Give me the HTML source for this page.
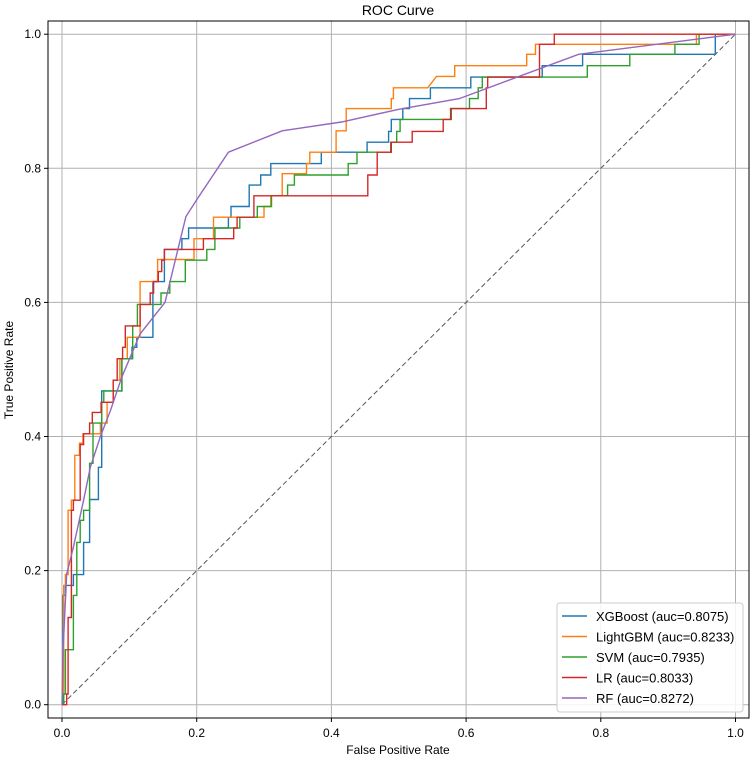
<!DOCTYPE html>
<html><head><meta charset="utf-8"><style>
body{margin:0;background:#fff;}
svg{display:block;font-family:"Liberation Sans","DejaVu Sans",sans-serif;}
</style></head><body>
<svg id="chart" width="753" height="759" viewBox="0 0 753 759">
<text x="398" y="15" text-anchor="middle" font-size="14">ROC Curve</text>
<g id="grid"></g>
<g id="series"></g>
<rect x="48" y="21" width="701" height="697" fill="none" stroke="#000" stroke-width="1"/>
<g id="ticks"></g>
<text x="398" y="754" text-anchor="middle" font-size="12">False Positive Rate</text>
<text transform="translate(13,370) rotate(-90)" text-anchor="middle" font-size="12">True Positive Rate</text>
<g id="legend">
<rect x="557" y="603" width="186" height="109" rx="3" fill="#fff" fill-opacity="0.85" stroke="#ccc"/>
</g>
</svg>
<script>
const ticks=[0,0.2,0.4,0.6,0.8,1.0];
const tickLabels=["0.0","0.2","0.4","0.6","0.8","1.0"];
const names=["XGBoost (auc=0.8075)","LightGBM (auc=0.8233)","SVM (auc=0.7935)","LR (auc=0.8033)","RF (auc=0.8272)"];
const colors=["#1f77b4","#ff7f0e","#2ca02c","#d62728","#9467bd"];
const xgbFpr=[0,0.0015,0.0015,0.005,0.005,0.017,0.017,0.032,0.032,0.041,0.041,0.054,0.054,0.059,0.059,0.089,0.089,0.104,0.104,0.111,0.111,0.135,0.135,0.135,0.135,0.152,0.152,0.178,0.178,0.188,0.188,0.247,0.247,0.251,0.251,0.278,0.278,0.295,0.295,0.31,0.31,0.385,0.385,0.453,0.453,0.485,0.485,0.489,0.489,0.506,0.506,0.516,0.516,0.547,0.547,0.607,0.607,0.713,0.713,0.773,0.773,0.97,0.97,1];
const xgbTpr=[0,0,0.163,0.163,0.178,0.178,0.194,0.194,0.242,0.242,0.306,0.306,0.354,0.354,0.468,0.468,0.516,0.516,0.533,0.533,0.548,0.548,0.603,0.603,0.631,0.631,0.679,0.679,0.695,0.695,0.711,0.711,0.727,0.727,0.743,0.743,0.775,0.775,0.79,0.79,0.807,0.807,0.824,0.824,0.839,0.839,0.855,0.855,0.873,0.873,0.889,0.889,0.904,0.904,0.92,0.92,0.936,0.936,0.953,0.953,0.97,0.97,1,1];
const lgbFpr=[0,0.0025,0.0025,0.005,0.005,0.009,0.009,0.014,0.014,0.019,0.019,0.026,0.026,0.031,0.031,0.057,0.057,0.067,0.067,0.076,0.076,0.086,0.086,0.097,0.097,0.116,0.116,0.142,0.142,0.196,0.196,0.225,0.225,0.3,0.3,0.31,0.31,0.327,0.327,0.363,0.363,0.368,0.368,0.407,0.407,0.422,0.422,0.489,0.489,0.492,0.492,0.543,0.556,0.583,0.583,0.69,0.69,0.703,0.703,0.942,0.942,1];
const lgbTpr=[0,0,0.178,0.178,0.194,0.194,0.29,0.29,0.305,0.305,0.372,0.372,0.39,0.39,0.404,0.404,0.42,0.42,0.451,0.451,0.484,0.484,0.516,0.516,0.548,0.548,0.631,0.631,0.664,0.664,0.695,0.695,0.727,0.727,0.743,0.743,0.759,0.759,0.792,0.792,0.807,0.807,0.824,0.824,0.856,0.856,0.889,0.889,0.904,0.904,0.92,0.92,0.937,0.937,0.953,0.953,0.97,0.97,0.985,0.985,1,1];
const svmFpr=[0,0.0025,0.0025,0.005,0.005,0.017,0.017,0.022,0.022,0.027,0.027,0.032,0.032,0.041,0.041,0.046,0.046,0.059,0.059,0.062,0.062,0.089,0.089,0.105,0.105,0.112,0.112,0.147,0.147,0.16,0.16,0.183,0.183,0.215,0.215,0.227,0.227,0.264,0.264,0.29,0.29,0.311,0.311,0.335,0.335,0.345,0.345,0.425,0.425,0.438,0.438,0.488,0.488,0.497,0.497,0.502,0.502,0.578,0.578,0.605,0.605,0.618,0.618,0.624,0.624,0.78,0.78,0.843,0.843,0.91,0.91,0.946,0.946,1];
const svmTpr=[0,0,0.016,0.016,0.082,0.082,0.163,0.163,0.242,0.242,0.275,0.275,0.29,0.29,0.36,0.36,0.42,0.42,0.451,0.451,0.468,0.468,0.516,0.516,0.565,0.565,0.597,0.597,0.614,0.614,0.631,0.631,0.663,0.663,0.679,0.679,0.711,0.711,0.727,0.727,0.743,0.743,0.759,0.759,0.775,0.775,0.79,0.79,0.807,0.807,0.824,0.824,0.839,0.839,0.855,0.855,0.873,0.873,0.889,0.889,0.904,0.904,0.92,0.92,0.936,0.936,0.953,0.953,0.97,0.97,0.985,0.985,1,1];
const lrFpr=[0,0.007,0.007,0.009,0.009,0.014,0.014,0.017,0.017,0.027,0.027,0.032,0.032,0.041,0.041,0.045,0.045,0.058,0.058,0.076,0.076,0.082,0.082,0.09,0.09,0.094,0.094,0.116,0.116,0.131,0.131,0.136,0.136,0.143,0.143,0.148,0.148,0.152,0.152,0.21,0.21,0.255,0.255,0.26,0.26,0.285,0.285,0.454,0.454,0.468,0.468,0.489,0.489,0.52,0.52,0.566,0.566,0.577,0.577,0.63,0.63,0.632,0.632,0.709,0.709,0.731,0.731,1];
const lrTpr=[0,0,0.016,0.016,0.13,0.13,0.29,0.29,0.305,0.305,0.388,0.388,0.404,0.404,0.42,0.42,0.436,0.436,0.451,0.451,0.484,0.484,0.516,0.516,0.533,0.533,0.565,0.565,0.597,0.597,0.614,0.614,0.631,0.631,0.646,0.646,0.663,0.663,0.679,0.679,0.695,0.695,0.711,0.711,0.727,0.727,0.759,0.759,0.79,0.79,0.824,0.824,0.839,0.839,0.855,0.855,0.873,0.873,0.889,0.889,0.92,0.92,0.936,0.936,0.985,0.985,1,1];
const rfFpr=[0,0.0015,0.007,0.017,0.032,0.042,0.057,0.072,0.089,0.116,0.153,0.184,0.2,0.247,0.327,0.415,0.5,0.59,0.767,1];
const rfTpr=[0,0.08,0.195,0.235,0.305,0.354,0.4,0.439,0.489,0.553,0.6,0.728,0.753,0.824,0.856,0.869,0.888,0.904,0.97,1];
const seriesFpr=[xgbFpr,lgbFpr,svmFpr,lrFpr,rfFpr];
const seriesTpr=[xgbTpr,lgbTpr,svmTpr,lrTpr,rfTpr];
const seriesKeys=["xgboost","lightgbm","svm","lr","rf"];

const NS="http://www.w3.org/2000/svg";
const X0=62,XS=673.5,Y0=704.7,YS=670.5;
function sx(v){return X0+v*XS;}
function sy(v){return Y0-v*YS;}
function mk(tag,attrs,parent){const e=document.createElementNS(NS,tag);for(const k in attrs)e.setAttribute(k,attrs[k]);parent.appendChild(e);return e;}
const grid=document.getElementById('grid'),tk=document.getElementById('ticks'),ser=document.getElementById('series'),leg=document.getElementById('legend');
ticks.forEach((t,i)=>{
  const gx=mk('line',{x1:sx(t),x2:sx(t),y1:21,y2:718,stroke:'#b0b0b0','stroke-width':1},grid);
  
  
  const gy=mk('line',{x1:48,x2:749,y1:sy(t),y2:sy(t),stroke:'#b0b0b0','stroke-width':1},grid);
  
  
  mk('line',{x1:sx(t),x2:sx(t),y1:718,y2:722,stroke:'#000'},tk);
  mk('line',{x1:44,x2:48,y1:sy(t),y2:sy(t),stroke:'#000'},tk);
  const xl=mk('text',{x:sx(t),y:737,'text-anchor':'middle','font-size':12},tk);
  xl.textContent=tickLabels[i];
  
  
  const yl=mk('text',{x:41,y:sy(t)+4,'text-anchor':'end','font-size':12},tk);
  yl.textContent=tickLabels[i];
  
  
});
const diag=mk('line',{x1:sx(0),y1:sy(0),x2:sx(1),y2:sy(1),stroke:'#555','stroke-dasharray':'5,3','stroke-width':1},ser);


seriesFpr.forEach((f,i)=>{
  const t=seriesTpr[i];
  const n=Math.min(f.length,t.length);
  const pts=[];
  for(let j=0;j<n;j++)pts.push(sx(f[j]).toFixed(1)+','+sy(t[j]).toFixed(1));
  const pl=mk('polyline',{points:pts.join(' '),fill:'none',stroke:colors[i],'stroke-width':1.4},ser);
  
  
  const y=616+i*20.5;
  mk('line',{x1:562,x2:587,y1:y,y2:y,stroke:colors[i],'stroke-width':1.5},leg);
  const lt=mk('text',{x:596,y:y+5,'font-size':13},leg);
  lt.textContent=names[i];
  
  
});
</script>
</body></html>
